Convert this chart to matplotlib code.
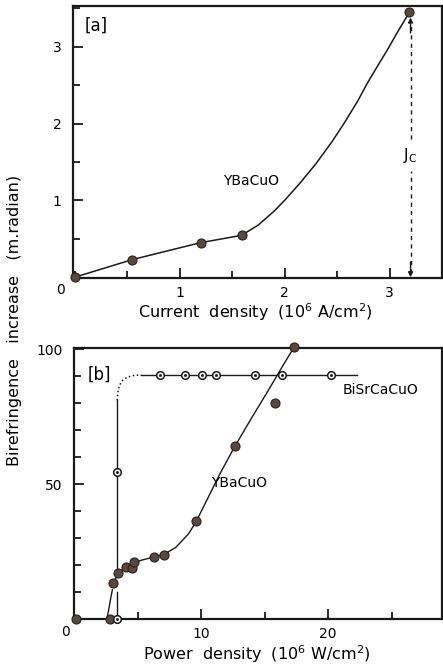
import matplotlib.pyplot as plt
from matplotlib.ticker import MultipleLocator

# panel [a]: birefringence vs current density (YBaCuO)
a_current = [0.0, 0.55, 1.20, 1.59, 3.19]
a_biref = [0.0, 0.23, 0.45, 0.545, 3.45]
# hand-drawn curve through panel [a]
a_curve_x = [0.0, 0.55, 1.20, 1.59, 1.75, 1.9, 2.0, 2.15, 2.3, 2.45, 2.57, 2.7, 2.79, 2.9, 2.98, 3.08, 3.19]
a_curve_y = [0.0, 0.23, 0.45, 0.545, 0.68, 0.86, 1.0, 1.23, 1.48, 1.76, 2.01, 2.3, 2.53, 2.78, 2.96, 3.2, 3.45]
jc = 3.2

# panel [b]: birefringence vs power density
y_power = [0.15, 2.8, 3.1, 3.5, 4.1, 4.6, 4.75, 6.3, 7.1, 9.6, 12.66, 15.8, 17.3]
y_biref = [0.0, 0.0, 13.2, 17.2, 19.4, 18.8, 21.2, 22.8, 23.7, 36.3, 64.1, 80.1, 100.6]
b_power = [3.4, 3.35, 6.8, 8.77, 10.05, 11.2, 14.25, 16.4, 20.2]
b_biref = [0.0, 54.5, 90.4, 90.4, 90.4, 90.4, 90.4, 90.4, 90.4]

# curves in panel [b]
ycurve_low_x = [2.6, 2.75, 2.9, 3.02]
ycurve_low_y = [0.3, 4.0, 8.0, 10.8]
ycurve_x = [3.1, 3.5, 4.2, 5.0, 6.3, 7.1, 8.0, 9.0, 9.6, 10.5, 11.5, 12.66, 14.0, 15.2, 16.3, 17.3]
ycurve_y = [13.2, 17.2, 19.6, 21.4, 23.0, 24.0, 26.5, 31.5, 36.0, 44.5, 54.0, 64.0, 74.7, 84.0, 92.8, 100.6]
bvert_low_y = [0.0, 10.0]
bvert_y = [18.0, 81.0]
bdot_x = [3.4, 3.45, 3.6, 3.85, 4.2, 4.7, 5.3]
bdot_y = [81.0, 84.0, 86.8, 88.5, 89.6, 90.2, 90.4]
bflat_x = [5.3, 22.3]

ink = '#1a1a1a'
fill = '#5a4838'
fs = 10
fs_lab = 11.5

plt.rcParams['font.family'] = 'DejaVu Sans'
fig = plt.figure(figsize=(4.43, 6.66), dpi=100)
fig.patch.set_facecolor('white')


def style(ax):
    for s in ax.spines.values():
        s.set_linewidth(1.6)
        s.set_color(ink)
    ax.tick_params(which='both', direction='in', color=ink, width=1.3,
                   labelsize=fs)
    ax.tick_params(axis='x', pad=6)
    ax.tick_params(axis='y', pad=8)
    ax.tick_params(which='major', length=7)
    ax.tick_params(which='minor', length=5)


# ---- panel a ----
ax1 = fig.add_axes([72.6 / 443, 1 - 278 / 666, 369.4 / 443, 272 / 666])
style(ax1)
ax1.set_xlim(-0.02, 3.5)
ax1.set_ylim(-0.01, 3.53)
ax1.set_xticks([1, 2, 3])
ax1.set_yticks([1, 2, 3])
ax1.xaxis.set_minor_locator(MultipleLocator(0.5))
ax1.yaxis.set_minor_locator(MultipleLocator(0.5))
ax1.plot(a_curve_x, a_curve_y, color=ink, lw=1.1)
ax1.plot(a_current, a_biref, 'o', ms=6.5, mfc=fill, mec='#2a2018', mew=0.8,
         clip_on=False, zorder=5)
ax1.plot([jc, jc], [0.05, 1.38], ls='--', color=ink, lw=1.0, dashes=(3, 3))
ax1.plot([jc, jc], [1.8, 3.3], ls='--', color=ink, lw=1.0, dashes=(3, 3))
ax1.annotate('', xy=(jc, 0.0), xytext=(jc, 0.2),
             arrowprops=dict(arrowstyle='-|>', color=ink, lw=1.0,
                             mutation_scale=7, shrinkA=0, shrinkB=0))
ax1.annotate('', xy=(jc, 3.38), xytext=(jc, 3.18),
             arrowprops=dict(arrowstyle='-|>', color=ink, lw=1.0,
                             mutation_scale=7, shrinkA=0, shrinkB=0))
ax1.text(jc, 1.58, r'J$_\mathregular{C}$', fontsize=fs + 1, ha='center', va='center')
ax1.text(1.68, 1.25, 'YBaCuO', fontsize=fs, ha='center', va='center')
ax1.text(0.2, 3.27, '[a]', fontsize=fs + 2, ha='center', va='center')
ax1.text(-0.14, -0.16, '0', fontsize=fs, ha='center', va='center')
ax1.text(1.72, -0.53, 'Current  density  (10$^6$ A/cm$^2$)', fontsize=fs_lab,
         ha='center', va='baseline')

# ---- panel b ----
ax2 = fig.add_axes([74 / 443, 1 - 619 / 666, 368 / 443, 271.3 / 666])
style(ax2)
ax2.set_xlim(0, 28.95)
ax2.set_ylim(0, 100.5)
ax2.set_xticks([10, 20])
ax2.set_yticks([50, 100])
ax2.xaxis.set_minor_locator(MultipleLocator(5))
ax2.yaxis.set_minor_locator(MultipleLocator(10))
ax2.plot(ycurve_low_x, ycurve_low_y, color=ink, lw=1.0)
ax2.plot(ycurve_x, ycurve_y, color=ink, lw=1.0)
ax2.plot([3.4, 3.4], bvert_low_y, color=ink, lw=1.0)
ax2.plot([3.4, 3.4], bvert_y, color=ink, lw=1.0)
ax2.plot(bdot_x, bdot_y, color=ink, lw=1.1, ls=':')
ax2.plot(bflat_x, [90.4, 90.4], color=ink, lw=1.0)
ax2.plot(y_power, y_biref, 'o', ms=6.5, mfc=fill, mec='#2a2018', mew=0.8,
         clip_on=False, zorder=5)
ax2.plot(b_power, b_biref, 'o', ms=5.5, mfc='white', mec=ink, mew=1.1,
         clip_on=False, zorder=6)
ax2.plot(b_power, b_biref, '.', ms=2.2, color=ink, clip_on=False, zorder=7)
ax2.text(2.0, 90.4, '[b]', fontsize=fs + 2, ha='center', va='center')
ax2.text(24.1, 84.8, 'BiSrCaCuO', fontsize=fs, ha='center', va='center')
ax2.text(13.0, 50.3, 'YBaCuO', fontsize=fs, ha='center', va='center')
ax2.text(-0.7, -5.0, '0', fontsize=fs, ha='center', va='center')
ax2.text(14.4, -15.3, 'Power  density  (10$^6$ W/cm$^2$)', fontsize=fs_lab,
         ha='center', va='baseline')

fig.text(15 / 443, 1 - 320 / 666, 'Birefringence   increase   (m.radian)',
         rotation=90, fontsize=fs_lab, ha='center', va='center')

fig.savefig('out.png', dpi=100, facecolor='white')
